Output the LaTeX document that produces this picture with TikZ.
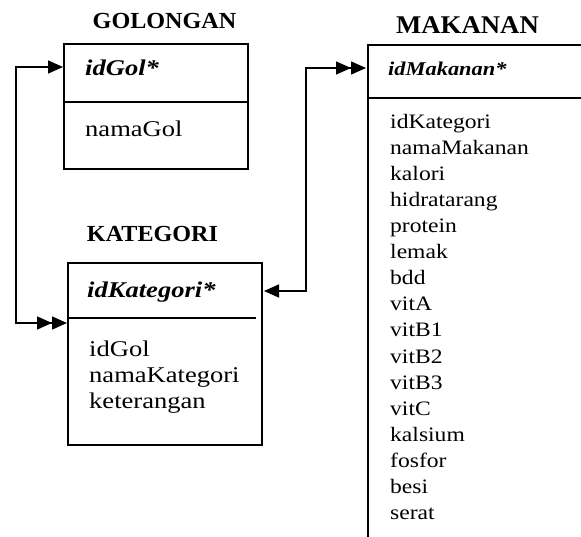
\documentclass[tikz,border=0pt]{standalone}
\usepackage{fontspec}
\setmainfont{Liberation Serif}
\newfontfamily\bodyfont[FakeStretch=1.18]{Liberation Serif}
\newfontfamily\mbodyfont[FakeStretch=1.15]{Liberation Serif}
\newfontfamily\titlefont[FakeStretch=1.05]{Liberation Serif}
\usetikzlibrary{arrows.meta}
\tikzset{
  box/.style={draw, line width=1.7pt},
  conn/.style={line width=1.6pt},
  ttl/.style={anchor=base, inner sep=0pt, font=\titlefont\bfseries\fontsize{23}{28}\selectfont},
  bigttl/.style={ttl, font=\titlefont\bfseries\fontsize{25.5}{30}\selectfont},
  fld/.style={anchor=base west, inner sep=0pt, font=\bodyfont\fontsize{22.5}{26}\selectfont},
  keyfld/.style={fld, font=\bodyfont\bfseries\itshape\fontsize{22.5}{26}\selectfont},
  mfld/.style={anchor=base west, inner sep=0pt, font=\mbodyfont\fontsize{20.5}{26}\selectfont},
  mkeyfld/.style={mfld, font=\mbodyfont\bfseries\itshape\fontsize{19.5}{26}\selectfont},
  tipA/.tip={Triangle[length=15pt,width=13pt]},
}
\begin{document}
\begin{tikzpicture}[x=1pt,y=-1pt]
\useasboundingbox (0,0) rectangle (581,537);
\clip (0,0) rectangle (581,537);

% titles
\node[ttl] (tgol) at (164.5,28.3) {GOLONGAN};
\node[ttl] (tkat) at (152.5,241.7) {KATEGORI};
\node[bigttl] (tmak) at (467.5,33.3) {MAKANAN};

% GOLONGAN box
\draw[box] (64,44) rectangle (248,169);
\draw[box] (64,102) -- (248,102);
\node[keyfld] (gkey) at (85,76) {idGol*};
\node[fld] (gf1) at (85,136.7) {namaGol};

% KATEGORI box
\draw[box] (68,263) rectangle (262,445);
\draw[box] (68,318) -- (256,318);
\node[keyfld] (kkey) at (87,298) {idKategori*};
\node[fld] (kf1) at (89,356.7) {idGol};
\node[fld] (kf2) at (89,382.7) {namaKategori};
\node[fld] (kf3) at (89,408.7) {keterangan};

% MAKANAN box (open to the right and bottom)
\draw[box] (368,600) -- (368,45) -- (620,45);
\draw[box] (368,98) -- (620,98);
\node[mkeyfld] (mkey) at (388,76) {idMakanan*};
\foreach \t [count=\i] in {idKategori,namaMakanan,kalori,hidratarang,protein,lemak,bdd,vitA,vitB1,vitB2,vitB3,vitC,kalsium,fosfor,besi,serat}
  \node[mfld] (mf\i) at (390,{129+26*(\i-1)}) {\t};

% connectors
\coordinate (golin) at (63,67);
\coordinate (katin) at (67,323);
\coordinate (lbend) at (16,0);
\coordinate (katout) at (264,291);
\coordinate (makin) at (366,68);
\coordinate (rbend) at (306,0);

\draw[conn, {tipA[sep=0pt]tipA}-{tipA}] (katin) -- (katin -| lbend) |- (golin);
\draw[conn, {tipA}-{tipA[sep=0pt]tipA}] (katout) -- (katout -| rbend) |- (makin);
\end{tikzpicture}
\end{document}
